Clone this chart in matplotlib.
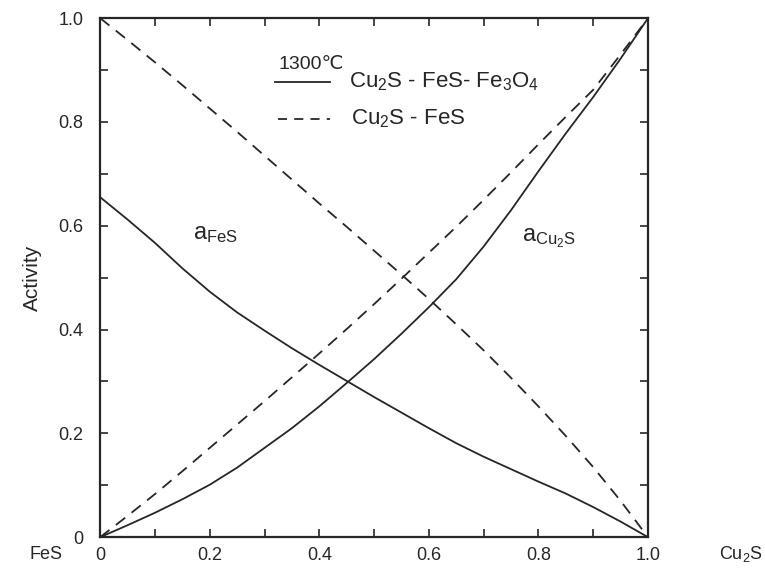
import matplotlib.pyplot as plt
import numpy as np
from matplotlib.ticker import MultipleLocator, FuncFormatter

plt.rcParams['font.family'] = ['Liberation Sans', 'DejaVu Sans']
plt.rcParams['mathtext.fontset'] = 'custom'
plt.rcParams['mathtext.rm'] = 'Liberation Sans'
plt.rcParams['mathtext.it'] = 'Liberation Sans'

# mole fraction of Cu2S
x = [0.0, 0.05, 0.1, 0.15, 0.2, 0.25, 0.3, 0.35, 0.4, 0.45, 0.5,
     0.55, 0.6, 0.65, 0.7, 0.75, 0.8, 0.85, 0.9, 0.95, 1.0]

# Cu2S - FeS - Fe3O4 (solid lines)
a_fes_sat = [0.655, 0.612, 0.567, 0.518, 0.473, 0.433, 0.398, 0.364, 0.332, 0.301, 0.270,
             0.24, 0.21, 0.181, 0.155, 0.131, 0.107, 0.084, 0.058, 0.03, 0.0]
a_cu2s_sat = [0.0, 0.023, 0.047, 0.073, 0.101, 0.134, 0.172, 0.21, 0.252, 0.297, 0.343,
              0.392, 0.443, 0.497, 0.56, 0.63, 0.705, 0.778, 0.848, 0.922, 1.0]

# Cu2S - FeS (dashed lines)
a_fes_bin = [1.0, 0.958, 0.915, 0.871, 0.826, 0.781, 0.735, 0.689, 0.643, 0.598, 0.552,
             0.506, 0.459, 0.41, 0.36, 0.307, 0.252, 0.195, 0.135, 0.07, 0.0]
a_cu2s_bin = [0.0, 0.041, 0.083, 0.127, 0.172, 0.217, 0.262, 0.308, 0.354, 0.401, 0.449,
              0.498, 0.548, 0.598, 0.65, 0.703, 0.757, 0.81, 0.862, 0.93, 1.0]

fig = plt.figure(figsize=(7.65, 5.69), dpi=100)
ax = fig.add_axes([0.131, 0.056, 0.716, 0.912])

lc = '#262626'
dash = (6.5, 4.5)
ax.plot(x, a_fes_sat, color=lc, lw=1.3)
ax.plot(x, a_cu2s_sat, color=lc, lw=1.3)
ax.plot(x, a_fes_bin, color=lc, lw=1.3, dashes=dash)
ax.plot(x, a_cu2s_bin, color=lc, lw=1.3, dashes=dash)

ax.set_xlim(0, 1)
ax.set_ylim(0, 1)

ax.xaxis.set_major_locator(MultipleLocator(0.2))
ax.xaxis.set_minor_locator(MultipleLocator(0.1))
ax.yaxis.set_major_locator(MultipleLocator(0.2))
ax.yaxis.set_minor_locator(MultipleLocator(0.1))
fmt = FuncFormatter(lambda v, p: '0' if abs(v) < 1e-9 else f'{v:.1f}')
ax.xaxis.set_major_formatter(fmt)
ax.yaxis.set_major_formatter(fmt)
ax.tick_params(which='both', direction='in', top=True, right=True,
               length=6, width=1.2, color=lc, labelsize=13, labelcolor=lc)
ax.tick_params(axis='y', pad=12)
ax.tick_params(axis='x', pad=7)
for s in ax.spines.values():
    s.set_linewidth(1.6)
    s.set_color(lc)

ax.set_ylabel('Activity', fontsize=15, color=lc, labelpad=12)

# end-member labels under the axis
fig.text(0.060, 0.0255, 'FeS', fontsize=13, color=lc, ha='center', va='center')
fig.text(0.997, 0.0255, 'Cu$_2$S', fontsize=13, color=lc, ha='right', va='center')

# curve labels
ax.text(0.17, 0.575, r'a$_{\mathrm{FeS}}$', fontsize=17, color=lc)
ax.text(0.77, 0.57, r'a$_{\mathrm{Cu_2S}}$', fontsize=17, color=lc)

# legend drawn by hand
ax.text(0.325, 0.91, '1300\u2103', fontsize=14, color=lc, va='center')
ax.plot([0.32, 0.42], [0.877, 0.877], color=lc, lw=1.3)
ax.text(0.455, 0.877, 'Cu$_2$S - FeS- Fe$_3$O$_4$', fontsize=16,
        color=lc, va='center')
ax.plot([0.325, 0.42], [0.806, 0.806], color=lc, lw=1.3, dashes=(5, 4))
ax.text(0.458, 0.806, 'Cu$_2$S - FeS', fontsize=16, color=lc, va='center')

fig.savefig('out.png', dpi=100)
